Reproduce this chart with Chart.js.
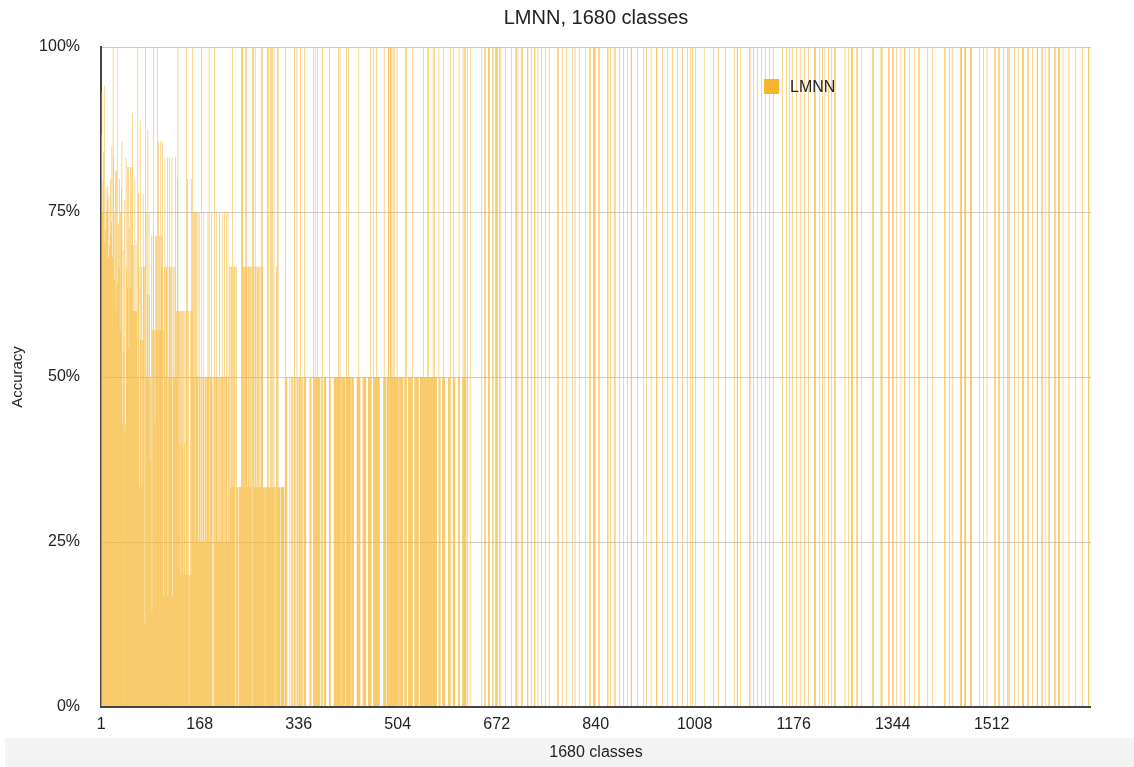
<!DOCTYPE html>
<html>
<head>
<meta charset="utf-8">
<title>LMNN, 1680 classes</title>
<script src="https://cdn.jsdelivr.net/npm/chart.js@4/dist/chart.umd.min.js"></script>
<style>
  html, body { margin: 0; padding: 0; background: #fff; }
  canvas { display: block; }
</style>
</head>
<body>
<canvas id="chart" width="1134" height="767"></canvas>
<script>
// Per-class accuracy of LMNN, classes ordered by number of test samples (most first).

// Classes with many test samples (classes 1–128)
const accManySamples = [
  .867,.933,.75,.8,.841,.941,.703,.722,.786,.75,
  .767,.79,.68,.773,.7,.713,.8,.735,.849,.682,
  1,.833,.647,.75,.811,.6,.813,.64,1,.733,
  .667,.8,.571,.75,.786,.857,.429,.692,.538,.769,
  .417,.429,.833,.667,.818,.636,.818,.545,.727,.636,
  .818,.7,.818,.9,.6,.7,.6,.8,.6,.7,
  .6,.5,1,.778,.667,.333,.889,.556,.667,.333,
  .556,.778,.667,.667,.125,1,.75,.5,.625,.875,
  .5,.75,.625,.375,.5,.714,.143,.571,.714,1,
  .571,.429,.714,.571,.714,1,.571,.857,.571,.714,
  .571,.857,.714,.667,.857,.571,.167,.667,.833,.5,
  .667,.667,.833,.167,.5,.667,.833,.5,.667,.667,
  .833,.167,.5,.667,.5,.667,.833,.5
];

// Five test samples (classes 129–150)
const accFiveSamples = [
  .6,.8,1,.6,.4,.6,.6,.2,.6,.4,
  .6,.2,.6,.4,.6,.2,.6,1,.8,.2,
  .6,0
];

// Four test samples (classes 151–218)
const accFourSamples = [
  .2,.6,.2,.8,.6,1,.75,.5,.75,.25,
  .75,.5,.75,.5,.75,.25,.75,.5,.25,.5,
  1,.5,.25,.5,.75,.25,.5,.5,.25,.5,
  .5,.75,.5,1,.25,.5,.5,.75,.5,0,
  0,.5,1,.25,.5,.75,.5,.5,.25,.5,
  .25,.75,.5,.25,.5,.75,.5,.5,.25,.75,
  .25,.5,.75,.5,.25,.75,.5,.25
];

// Three test samples (classes 219–312)
const accThreeSamples = [
  .667,.333,.667,.667,.333,1,.667,.333,.667,.667,
  0,.667,.333,.333,.333,0,.333,.333,.333,.333,
  1,1,1,.667,.333,.667,.667,1,1,.667,
  .333,.667,.667,.333,.667,.667,.333,.667,0,1,
  1,.667,.333,1,.667,.333,.667,.667,.333,.667,
  .333,.667,.333,.667,1,1,.667,.333,.333,.333,
  0,.333,.333,.333,1,.333,1,.333,.333,1,
  .333,1,.333,1,.333,1,.333,0,.333,.667,
  .333,1,1,.333,.333,.333,0,.333,.333,.333,
  .333,.333,.333,0
];

// Two test samples (classes 313–620)
const accTwoSamples = [
  .5,1,.5,.5,0,0,0,0,.5,0,0,.5,.5,0,0,.5,1,.5,0,0,
  1,.5,.5,0,.5,.5,1,0,.5,.5,0,0,.5,1,.5,.5,0,0,0,0,
  0,0,.5,.5,.5,0,0,0,1,.5,.5,1,.5,.5,.5,1,.5,.5,.5,.5,
  0,0,.5,1,0,0,.5,.5,.5,.5,0,0,0,0,0,1,.5,.5,0,0,
  0,0,0,.5,.5,.5,.5,.5,.5,.5,.5,1,.5,1,.5,0,.5,.5,.5,.5,
  .5,.5,0,.5,1,.5,.5,.5,1,.5,.5,.5,0,.5,.5,.5,.5,0,0,0,
  0,0,.5,.5,.5,1,.5,.5,0,0,0,0,.5,.5,.5,.5,.5,.5,0,0,
  0,.5,.5,.5,.5,1,.5,0,0,0,1,.5,.5,.5,.5,1,.5,.5,.5,.5,
  .5,0,0,0,0,0,0,.5,1,.5,.5,.5,0,.5,.5,1,1,.5,1,1,
  .5,1,.5,1,.5,1,.5,.5,.5,.5,1,.5,.5,0,.5,.5,.5,.5,.5,.5,
  .5,0,0,.5,1,.5,1,0,0,.5,.5,.5,.5,.5,.5,.5,1,0,0,0,
  .5,.5,.5,.5,.5,.5,.5,0,0,.5,.5,.5,.5,.5,.5,1,.5,.5,.5,.5,
  .5,1,.5,1,.5,.5,.5,.5,.5,.5,.5,1,.5,1,.5,.5,.5,.5,0,0,
  0,1,.5,.5,0,0,0,.5,.5,1,.5,.5,0,0,0,0,0,.5,.5,.5,
  0,1,0,0,0,.5,1,.5,.5,0,0,0,0,0,.5,1,.5,0,0,0,
  0,.5,1,.5,1,.5,1,.5
];

// One test sample (classes 621–1680)
const accOneSample = [
  0,1,0,0,0,0,1,0,0,0,0,0,0,0,0,0,0,0,0,0,
  0,0,0,0,0,1,0,0,0,0,1,0,1,0,0,0,0,1,1,1,
  0,0,0,0,1,1,0,0,0,1,1,1,1,0,0,0,1,0,1,0,
  0,0,0,0,0,0,1,0,0,0,0,0,0,0,0,0,1,0,0,0,
  0,0,0,1,0,1,0,1,0,0,0,0,0,1,0,1,0,0,0,0,
  0,0,0,1,1,0,0,0,0,0,1,0,0,0,0,1,1,0,0,0,
  0,1,0,0,0,0,0,1,0,0,0,0,0,0,1,0,0,0,0,0,
  1,0,0,0,0,0,0,0,0,0,0,0,0,0,1,0,1,0,0,0,
  0,0,1,0,0,0,0,0,0,1,0,0,0,0,0,0,0,0,0,1,
  0,0,0,0,1,0,0,0,0,0,0,1,0,0,0,0,0,0,0,0,
  0,0,1,0,0,0,0,0,1,0,1,0,0,0,0,1,1,1,0,1,
  0,0,0,0,1,1,0,0,0,0,0,0,0,0,0,0,0,0,0,1,
  1,0,0,0,1,0,0,0,0,0,0,1,1,0,0,0,0,0,0,1,
  0,0,0,0,0,0,1,0,0,0,0,0,0,1,0,0,0,0,0,1,
  1,0,0,0,0,0,0,0,0,0,1,0,0,0,0,0,0,0,0,0,
  1,0,0,0,0,1,0,0,0,0,0,0,0,1,0,0,0,0,0,0,
  0,0,1,1,0,0,0,0,0,0,0,0,1,0,0,0,0,0,0,0,
  0,1,0,0,0,0,0,0,0,1,0,0,0,0,0,0,0,0,1,0,
  0,0,0,0,0,0,1,0,0,0,0,0,0,0,0,1,0,0,0,0,
  1,0,0,1,0,0,0,0,1,0,0,0,0,0,0,0,0,0,0,0,
  0,0,0,1,0,0,0,0,0,0,0,0,0,0,0,0,0,0,0,1,
  0,0,0,0,0,0,0,1,0,0,0,0,0,0,0,0,0,0,0,1,
  0,0,0,0,0,0,0,0,0,0,0,0,0,0,1,0,0,0,0,1,
  1,0,0,0,0,1,0,0,0,0,0,0,0,0,0,0,0,0,0,0,
  1,1,0,0,0,0,0,1,0,0,0,0,0,0,1,0,0,0,0,0,
  1,0,0,0,0,0,0,1,0,0,0,0,0,0,1,0,0,0,0,0,
  0,1,0,0,0,0,0,0,0,0,0,0,0,0,0,0,1,0,0,0,
  0,0,0,1,0,0,0,0,1,0,0,0,0,1,0,0,0,0,0,0,
  1,0,0,0,0,0,1,0,0,0,0,0,0,1,0,0,0,0,0,0,
  1,0,0,0,0,0,0,0,0,0,1,1,1,0,0,0,0,0,0,1,
  0,0,0,0,1,0,0,0,1,0,0,0,0,0,1,0,0,0,0,1,
  0,0,0,0,1,0,1,0,0,0,0,0,0,0,0,0,0,0,0,0,
  0,0,1,0,0,0,0,0,1,0,0,0,0,1,1,1,0,0,0,0,
  0,0,1,1,0,0,0,0,0,0,1,0,0,0,0,0,0,0,0,0,
  0,0,0,0,0,0,0,0,0,1,1,0,0,0,0,0,0,0,0,0,
  0,0,0,1,1,1,0,0,0,0,0,0,0,0,0,0,1,1,0,0,
  0,0,0,1,1,0,0,0,0,0,1,0,0,0,0,0,0,1,0,0,
  0,0,0,1,1,0,0,0,0,0,0,1,0,0,0,0,0,0,0,0,
  1,0,0,0,0,0,0,1,1,0,0,0,0,0,0,0,0,0,0,0,
  0,0,1,0,0,0,0,0,0,0,0,1,0,0,0,0,0,0,0,0,
  0,0,0,0,0,0,0,0,0,0,0,1,1,0,0,0,0,0,0,1,
  0,0,0,0,0,1,0,0,0,0,0,0,0,0,0,0,0,0,1,1,
  1,0,0,0,0,1,1,1,0,0,0,0,0,0,0,1,1,1,0,0,
  0,0,0,0,0,0,0,0,0,0,1,0,0,0,0,0,0,1,0,0,
  0,0,0,1,0,0,0,0,0,0,0,0,0,0,0,0,1,1,0,0,
  0,0,0,1,1,0,0,0,0,0,0,1,0,0,0,0,0,0,1,1,
  0,1,0,0,0,0,0,0,0,0,1,0,0,0,0,0,0,1,0,0,
  0,0,0,1,1,1,0,0,0,0,0,0,1,1,0,0,0,0,0,0,
  1,0,0,0,0,0,0,0,1,1,0,0,0,0,0,0,1,1,0,0,
  0,0,0,1,0,0,0,0,1,1,0,0,0,0,0,0,0,0,1,1,
  0,0,0,0,1,1,1,0,0,0,0,0,1,0,0,0,0,0,0,0,
  0,0,1,0,0,0,0,0,0,0,0,0,0,1,0,0,0,0,0,0,
  0,0,0,0,0,1,0,0,0,0,0,0,0,0,0,1,1,0,0,0
];

// Labels shown under the class axis
const tickLabels = ['1', '168', '336', '504', '672', '840', '1008', '1176', '1344', '1512'];
const yTickStep = 0.25;

const seriesName = 'LMNN';
const chartTitle = 'LMNN, 1680 classes';
const xTitle = '1680 classes';
const yTitle = 'Accuracy';
const barColor = '#f5b52e';

const accuracy = [].concat(
  accManySamples, accFiveSamples, accFourSamples,
  accThreeSamples, accTwoSamples, accOneSample
);
const classLabels = accuracy.map((_, i) => String(i + 1));

const FONT = "'Liberation Sans', Arial, Helvetica, sans-serif";
Chart.defaults.font.family = FONT;
Chart.defaults.color = '#222';

// Title, legend, axis titles and the base line
const decorations = {
  id: 'decorations',
  beforeDraw(chart) {
    const { ctx, width, height } = chart;
    ctx.save();
    ctx.fillStyle = '#ffffff';
    ctx.fillRect(0, 0, width, height);
    // shaded strip behind the horizontal axis title
    ctx.fillStyle = '#f4f4f4';
    ctx.fillRect(5, 738, width - 5, height - 738);
    ctx.restore();
  },
  afterDatasetsDraw(chart) {
    const { ctx, chartArea } = chart;
    const y0 = chart.scales.y.getPixelForValue(0);
    ctx.save();
    ctx.strokeStyle = '#444';
    ctx.lineWidth = 2;
    ctx.beginPath();
    ctx.moveTo(chartArea.left - 1, y0);
    ctx.lineTo(chartArea.right, y0);
    ctx.stroke();
    ctx.restore();
  },
  afterDraw(chart) {
    const { ctx, chartArea } = chart;
    const cx = (chartArea.left + chartArea.right) / 2;
    ctx.save();
    ctx.fillStyle = '#222';
    ctx.textBaseline = 'middle';

    ctx.textAlign = 'center';
    ctx.font = `20px ${FONT}`;
    ctx.fillText(chartTitle, cx, 18);

    ctx.font = `16px ${FONT}`;
    ctx.fillText(xTitle, cx, 753);

    ctx.save();
    ctx.translate(18, (chartArea.top + chartArea.bottom) / 2);
    ctx.rotate(-Math.PI / 2);
    ctx.font = `15px ${FONT}`;
    ctx.fillText(yTitle, 0, 0);
    ctx.restore();

    // legend
    ctx.fillStyle = barColor;
    ctx.fillRect(764, 79, 15, 15);
    ctx.fillStyle = '#222';
    ctx.textAlign = 'left';
    ctx.font = `16px ${FONT}`;
    ctx.fillText(seriesName, 790, 88);
    ctx.restore();
  }
};

new Chart(document.getElementById('chart'), {
  type: 'bar',
  data: {
    labels: classLabels,
    datasets: [{
      label: seriesName,
      data: accuracy,
      backgroundColor: barColor,
      borderWidth: 0,
      inflateAmount: 0,
      barPercentage: 0.9,
      categoryPercentage: 1
    }]
  },
  options: {
    responsive: false,
    devicePixelRatio: 1,
    animation: false,
    events: [],
    layout: { padding: { top: 47, right: 43, bottom: 0, left: 0 } },
    plugins: {
      legend: { display: false },
      title: { display: false },
      tooltip: { enabled: false }
    },
    scales: {
      x: {
        type: 'category',
        grid: { display: false },
        border: { display: false },
        afterFit(scale) { scale.height = 60; },
        ticks: {
          autoSkip: false,
          maxRotation: 0,
          minRotation: 0,
          padding: 0,
          color: '#222',
          font: { size: 16 },
          callback(value) {
            const lab = this.getLabelForValue(value);
            return tickLabels.includes(lab) ? lab : null;
          }
        }
      },
      y: {
        min: 0,
        max: 1,
        afterFit(scale) { scale.width = 101; },
        grid: { color: '#cccccc', lineWidth: 1, drawTicks: false },
        border: { display: true, color: '#444', width: 2 },
        ticks: {
          stepSize: yTickStep,
          padding: 21,
          color: '#222',
          font: { size: 16 },
          callback: v => `${Math.round(v * 100)}%`
        }
      }
    }
  },
  plugins: [decorations]
});
</script>
</body>
</html>
